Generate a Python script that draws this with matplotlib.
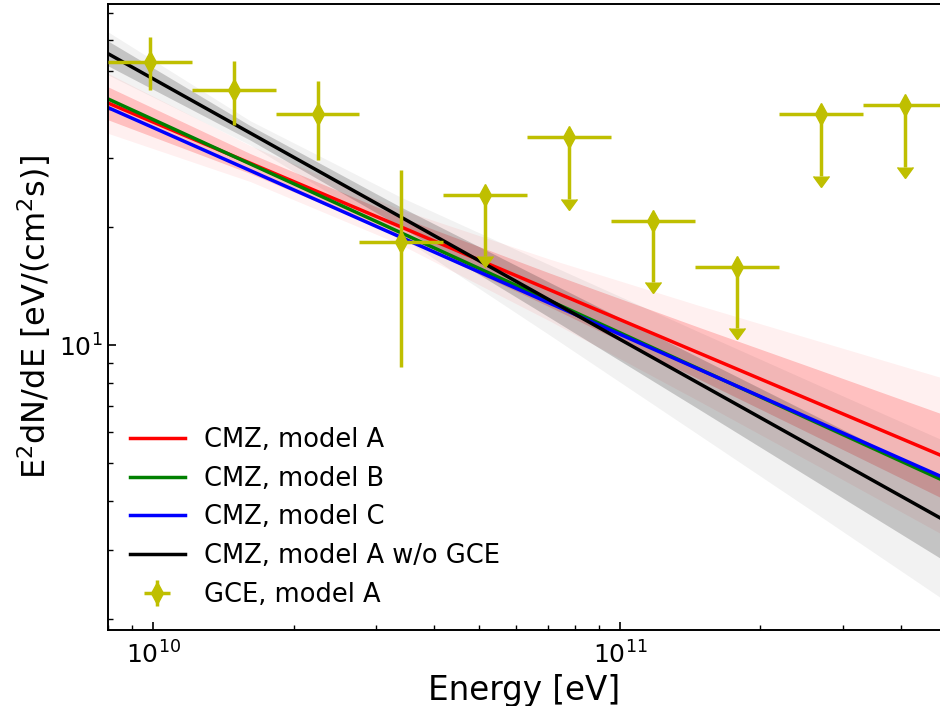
import numpy as np
import matplotlib
matplotlib.use("Agg")
import matplotlib.pyplot as plt

# ---------------- data ----------------
# model lines (power laws): values at the two ends of the energy range
line_E = [8.0e9, 4.85e11]
cmz_A = [41.4, 5.25]
cmz_B = [42.4, 4.56]
cmz_C = [40.3, 4.64]
cmz_A_noGCE = [55.3, 3.63]

# uncertainty bands (butterflies) sampled at a few energies
band_E = [8.01e9, 1.613e10, 3.38e10, 7.085e10, 1.484e11, 2.681e11, 4.845e11]
A_in_hi = [45.48, 30.78, 21.23, 15.25, 11.08, 8.63, 6.71]
A_in_lo = [37.49, 27.38, 18.89, 12.50, 8.17, 5.79, 4.10]
A_out_hi = [49.22, 32.26, 22.19, 16.55, 12.60, 10.22, 8.29]
A_out_lo = [34.63, 26.12, 18.07, 11.51, 7.18, 4.89, 3.32]
K_in_hi = [59.52, 36.26, 22.54, 14.43, 9.27, 6.52, 4.59]
K_in_lo = [51.45, 33.31, 20.07, 11.74, 6.84, 4.43, 2.87]
K_out_hi = [62.78, 37.31, 23.88, 16.00, 10.78, 7.88, 5.77]
K_out_lo = [48.79, 32.37, 18.94, 10.59, 5.88, 3.67, 2.28]

# GCE spectrum, model A
gce_edges = [8.01e9, 1.212e10, 1.831e10, 2.762e10, 4.178e10, 6.322e10,
             9.566e10, 1.447e11, 2.190e11, 3.314e11, 5.014e11]
gce_E = [9.85e9, 1.49e10, 2.25e10, 3.40e10, 5.14e10, 7.78e10,
         1.177e11, 1.78e11, 2.69e11, 4.08e11]
gce_val = [52.6, 44.7, 38.9, 18.3, 24.1, 33.9, 20.7, 15.8, 38.9, 40.8]
gce_hi = [61.1, 53.1, 47.2, 27.9, None, None, None, None, None, None]
gce_lo = [44.6, 36.3, 29.6, 8.8, 16.9, 23.6, 14.5, 11.06, 27.0, 28.4]
gce_is_ul = [False, False, False, False, True, True, True, True, True, True]

# ---------------- figure ----------------
fig = plt.figure(figsize=(9.40, 7.06), dpi=100)
ax = fig.add_axes([108/940, 76/706, 832/940, 626/706])
ax.set_xscale('log')
ax.set_yscale('log')

ax.fill_between(band_E, A_out_lo, A_out_hi, color='r', alpha=0.06, lw=0)
ax.fill_between(band_E, A_in_lo, A_in_hi, color='r', alpha=0.2, lw=0)
ax.fill_between(band_E, K_out_lo, K_out_hi, color='k', alpha=0.05, lw=0)
ax.fill_between(band_E, K_in_lo, K_in_hi, color='k', alpha=0.19, lw=0)

lw = 2.5
ax.plot(line_E, cmz_A, color='r', lw=lw, label='CMZ, model A')
ax.plot(line_E, cmz_B, color='g', lw=lw, label='CMZ, model B')
ax.plot(line_E, cmz_C, color='b', lw=lw, label='CMZ, model C')
ax.plot(line_E, cmz_A_noGCE, color='k', lw=lw, label='CMZ, model A w/o GCE')

E = np.array(gce_E)
edges = np.array(gce_edges)
val = np.array(gce_val)
ul = np.array(gce_is_ul)
xlo = E - edges[:-1]
xhi = edges[1:] - E
lo = np.array(gce_lo)
hi = np.array([h if h is not None else v for h, v in zip(gce_hi, gce_val)])

col = 'y'
ms = 11
elw = 2.5
det = ~ul
ax.errorbar(E[det], val[det], xerr=[xlo[det], xhi[det]],
            yerr=[val[det] - lo[det], hi[det] - val[det]],
            fmt='d', color=col, ms=ms, elinewidth=elw, capsize=0,
            label='GCE, model A', zorder=5)
ax.errorbar(E[ul], val[ul], xerr=[xlo[ul], xhi[ul]],
            fmt='d', color=col, ms=ms, elinewidth=elw, capsize=0, zorder=5)
ax.errorbar(E[ul], val[ul], yerr=val[ul] - lo[ul], uplims=True,
            fmt='none', color=col, elinewidth=elw, capsize=5.5, zorder=5)

ax.set_xlim(8.0e9, 4.85e11)
ax.set_ylim(1.88, 74)

ax.set_xlabel('Energy [eV]', fontsize=23.5)
ax.set_ylabel(r'E$^2$dN/dE [eV/(cm$^2$s)]', fontsize=23)

ax.tick_params(which='both', direction='in', labelsize=18,
               top=False, right=False)
ax.tick_params(axis='x', which='both', pad=8)
ax.tick_params(axis='y', which='both', pad=4)
ax.tick_params(which='major', length=6, width=1.2)
ax.tick_params(which='minor', length=3.6, width=1.0)
for s in ['left', 'bottom', 'top']:
    ax.spines[s].set_linewidth(1.4)
ax.spines['right'].set_visible(False)

leg = ax.legend(loc='lower left', fontsize=18.5, frameon=False,
                handlelength=2.14, labelspacing=0.5, handletextpad=0.74,
                borderaxespad=0.45)

fig.savefig('out.png', dpi=100)
